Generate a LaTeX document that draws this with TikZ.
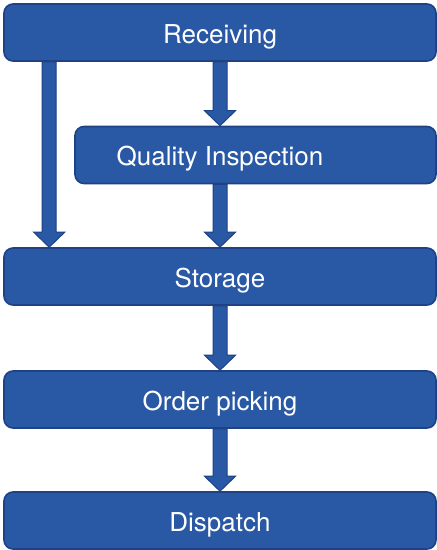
\documentclass[tikz,border=0pt]{standalone}
\usepackage{fontspec}
\setmainfont{TeX Gyre Heros}
\usepackage{xcolor}
\usetikzlibrary{calc}

\definecolor{boxfill}{RGB}{41,88,165}
\definecolor{boxline}{RGB}{30,66,132}

\begin{document}
\begin{tikzpicture}[x=1pt,y=-1pt,line join=miter]
    \tikzset{
        box/.style={shape=rectangle, rounded corners=9pt, draw=boxline, fill=boxfill,
            line width=1.6pt, minimum height=57pt, text=white, inner sep=0pt,
            text height=21.5pt, text depth=0pt, font=\fontsize{26}{30}\selectfont},
        boxtext/.style={text=white, inner sep=0pt, text height=21.5pt, text depth=0pt,
            font=\fontsize{26}{30}\selectfont},
        fatarrow/.style={draw=boxline, fill=boxfill, line width=1pt,
            to path={let \p1=(\tikztostart), \p2=(\tikztotarget) in
                (\x1-7pt,\y1) -- (\x1-7pt,\y2+15pt) -- (\x1-15.5pt,\y2+15pt) -- (\x1,\y2)
                -- (\x1+15.5pt,\y2+15pt) -- (\x1+7pt,\y2+15pt) -- (\x1+7pt,\y1) -- cycle}}
    }
    \useasboundingbox (0,0) rectangle (437,550);

    % process steps
    \node [box, minimum width=432pt] (recv) at (220, 32.5) {Receiving};
    \node [box, minimum width=361pt] (qual) at (255.5, 155) {};
    \node [boxtext] (qualtext) at (recv.south |- qual) {Quality Inspection};
    \node [box, minimum width=432pt] (store) at (220, 276.5) {Storage};
    \node [box, minimum width=432pt] (pick) at (220, 399.5) {Order picking};
    \node [box, minimum width=432pt] (disp) at (220, 520.5) {Dispatch};

    % bypass on the left, skipping inspection
    \coordinate (bypass) at ([xshift=46pt]recv.south west);

    \draw [fatarrow] (recv.south) to (recv.south |- qual.north);
    \draw [fatarrow] (recv.south |- qual.south) to (recv.south |- store.north);
    \draw [fatarrow] (bypass) to (bypass |- store.north);
    \draw [fatarrow] (store.south) to (pick.north);
    \draw [fatarrow] (pick.south) to (disp.north);
\end{tikzpicture}
\end{document}
